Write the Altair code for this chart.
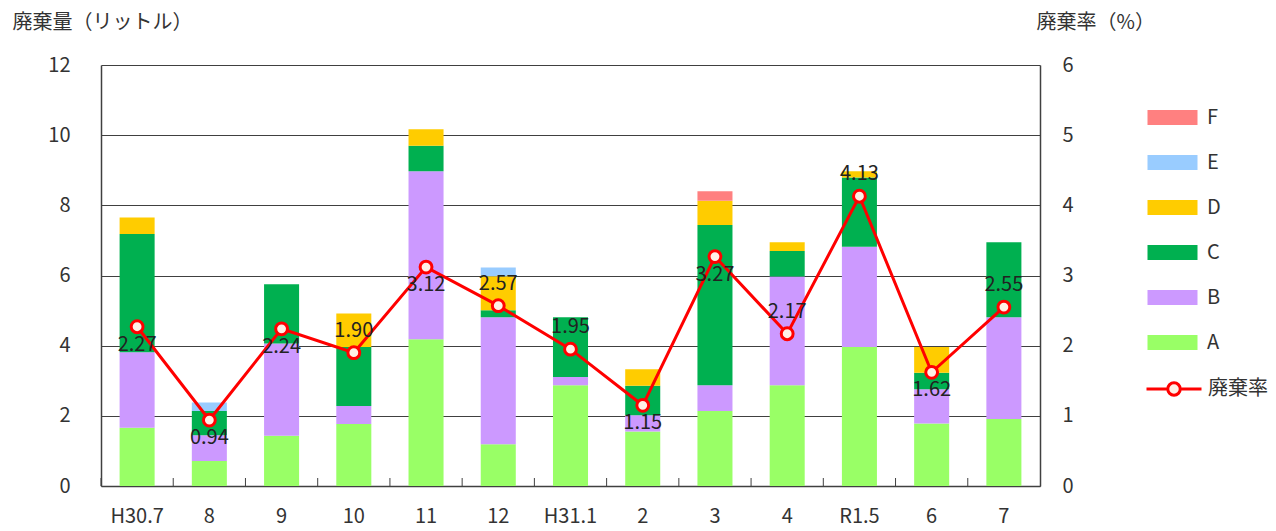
import altair as alt
import pandas as pd

months = ["H30.7", "8", "9", "10", "11", "12", "H31.1", "2", "3", "4", "R1.5", "6", "7"]
cat_a = [1.66, 0.71, 1.43, 1.77, 4.18, 1.19, 2.87, 1.55, 2.14, 2.87, 3.96, 1.78, 1.91]
cat_b = [2.15, 0.74, 2.63, 0.51, 4.79, 3.62, 0.24, 0.47, 0.73, 3.10, 2.86, 0.98, 2.90]
cat_c = [3.37, 0.69, 1.69, 1.68, 0.73, 0.20, 1.70, 0.84, 4.57, 0.73, 1.97, 0.47, 2.14]
cat_d = [0.47, 0.00, 0.00, 0.96, 0.47, 0.97, 0.00, 0.47, 0.69, 0.25, 0.18, 0.73, 0.00]
cat_e = [0.00, 0.24, 0.00, 0.00, 0.00, 0.25, 0.00, 0.00, 0.00, 0.00, 0.00, 0.00, 0.00]
cat_f = [0.00, 0.00, 0.00, 0.00, 0.00, 0.00, 0.00, 0.00, 0.27, 0.00, 0.00, 0.00, 0.00]
rate = [2.27, 0.94, 2.24, 1.90, 3.12, 2.57, 1.95, 1.15, 3.27, 2.17, 4.13, 1.62, 2.55]
label_pos = ["below", "below", "below", "above", "below", "above", "above",
             "below", "below", "above", "above", "below", "above"]

categories = ["A", "B", "C", "D", "E", "F"]
series_vals = [cat_a, cat_b, cat_c, cat_d, cat_e, cat_f]
legend_order = ["F", "E", "D", "C", "B", "A"]
colors = ["#FF8080", "#99CCFF", "#FFCC00", "#00B050", "#CC99FF", "#99FF66"]

rows = []
for ci, (cat, vals) in enumerate(zip(categories, series_vals)):
    for m, v in zip(months, vals):
        rows.append({"month": m, "category": cat, "value": v, "order": ci})
bars_df = pd.DataFrame(rows)
rate_df = pd.DataFrame({"month": months, "rate": rate, "pos": label_pos,
                        "series": ["廃棄率"] * len(months)})
month_df = pd.DataFrame({"month": months})

FONT = "Noto Sans CJK JP"
W, H = 939, 421
AX = "#404040"
TXT = "#333333"

x_enc = alt.X("month:N", sort=months,
              scale=alt.Scale(paddingInner=0, paddingOuter=0),
              axis=alt.Axis(title=None, labelAngle=0, ticks=False, labelPadding=20,
                            labelFontSize=20, domainColor=AX, domainWidth=1.5))

bar_symbol = "M-2,-0.6H2V0.6H-2Z"
line_symbol = ("M-2.2,0H-0.5M0.5,0H2.2M-0.5,0A0.5,0.5,0,1,1,0.5,0"
               "A0.5,0.5,0,1,1,-0.5,0Z")

bars = alt.Chart(bars_df).mark_bar(width=alt.RelativeBandSize(0.485)).encode(
    x=x_enc,
    y=alt.Y("value:Q", stack="zero",
            scale=alt.Scale(domain=[0, 12], nice=False),
            axis=alt.Axis(values=[0, 2, 4, 6, 8, 10, 12], title="廃棄量（リットル）",
                          titleAngle=0, titleAlign="left", titleBaseline="middle",
                          titleX=-89, titleY=-43, grid=True, gridColor=AX,
                          gridWidth=1, ticks=False, labelPadding=31, format="d",
                          labelFontSize=20, domainColor=AX, domainWidth=1.5)),
    color=alt.Color("category:N",
                    scale=alt.Scale(domain=legend_order, range=colors),
                    legend=alt.Legend(title=None, orient="none", legendX=1059,
                                      legendY=40, symbolType=bar_symbol,
                                      symbolSize=625, symbolStrokeWidth=0,
                                      labelFontSize=20, labelOffset=22,
                                      rowPadding=22, padding=0)),
    order=alt.Order("order:Q"),
)

ticks = alt.Chart(month_df).mark_rule(color=AX, strokeWidth=1).encode(
    x=alt.X("month:N", sort=months, bandPosition=0),
    y=alt.value(H - 8),
    y2=alt.value(H),
)

y_rate = alt.Y("rate:Q", scale=alt.Scale(domain=[0, 6], nice=False),
               axis=alt.Axis(orient="right", values=[0, 1, 2, 3, 4, 5, 6],
                             format="d",
                             title="廃棄率（%）", titleAngle=0, titleAlign="left",
                             titleBaseline="middle", titleX=-4, titleY=-43,
                             grid=False, ticks=False, labelPadding=22,
                             labelFontSize=20, domainColor=AX, domainWidth=1.5))

line = alt.Chart(rate_df).mark_line(strokeWidth=3).encode(
    x=alt.X("month:N", sort=months),
    y=y_rate,
    stroke=alt.Stroke("series:N", scale=alt.Scale(range=["#FF0000"]),
                      legend=alt.Legend(title=None, orient="none", legendX=1059,
                                        legendY=310, symbolType=line_symbol,
                                        symbolSize=625, symbolStrokeWidth=3,
                                        symbolFillColor="#FFF0E6",
                                        labelFontSize=20, labelOffset=20,
                                        padding=0)),
)

points = alt.Chart(rate_df).mark_point(shape="circle", size=140, fill="#FFF0E6",
                                       stroke="#FF0000", strokeWidth=3,
                                       opacity=1, fillOpacity=1).encode(
    x=alt.X("month:N", sort=months),
    y=alt.Y("rate:Q"),
)

text_above = alt.Chart(rate_df).transform_filter("datum.pos == 'above'").mark_text(
    dy=-22, fontSize=20, color="#222222", font=FONT).encode(
    x=alt.X("month:N", sort=months),
    y=alt.Y("rate:Q"),
    text=alt.Text("rate:Q", format=".2f"),
)
text_below = alt.Chart(rate_df).transform_filter("datum.pos == 'below'").mark_text(
    dy=18, fontSize=20, color="#222222", font=FONT).encode(
    x=alt.X("month:N", sort=months),
    y=alt.Y("rate:Q"),
    text=alt.Text("rate:Q", format=".2f"),
)

left_layer = alt.layer(bars, ticks)
right_layer = alt.layer(line, points, text_above, text_below)

chart = alt.layer(left_layer, right_layer).resolve_scale(
    y="independent", color="independent", stroke="independent"
).properties(
    width=W, height=H, autosize="none",
    padding={"left": 93, "top": 57, "right": 228, "bottom": 45},
).configure_axis(
    labelFont=FONT, titleFont=FONT, labelColor=TXT, titleColor=TXT,
    titleFontSize=20, titleFontWeight="normal",
).configure_legend(
    labelFont=FONT, labelColor=TXT,
).configure_view(stroke=None)

chart.save("out.html", embed_options={"renderer": "svg", "actions": False})
